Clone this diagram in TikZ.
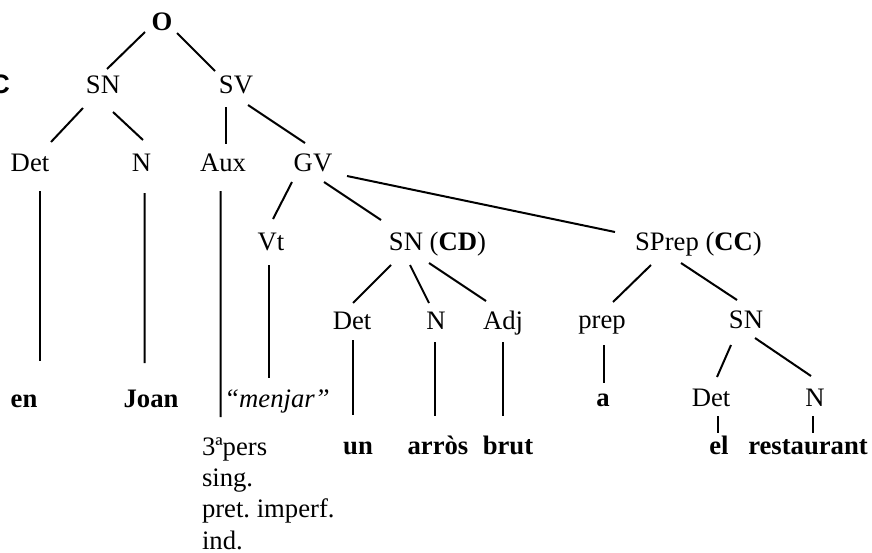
\documentclass[tikz,border=0pt]{standalone}
\usepackage{fontspec}
\setmainfont{Liberation Serif}
\newfontfamily\arialfont{Liberation Sans}
\usetikzlibrary{calc}
\tikzset{
  cat/.style={inner sep=0pt, anchor=base, font=\fontsize{12}{14}\selectfont},
  word/.style={cat, font=\fontsize{12}{14}\selectfont\bfseries}
}
\begin{document}
\begin{tikzpicture}[x=0.45pt, y=-0.45pt, line width=0.9pt]
\useasboundingbox (0,0) rectangle (872,552);

% --- Sentence and first split ---
\node (o) [word] at (162,30) {O};
\node (c_cut) [cat, anchor=base east] at (11,93) {\arialfont\bfseries C};
\node (sn) [cat] at (103,93) {SN};
\node (sv) [cat] at (236,93) {SV};

% --- Subject, auxiliary and verb group ---
\node (det_sn) [cat] at (30,171) {Det};
\node (n_sn) [cat] at (141.5,171) {N};
\node (aux) [cat] at (223,171) {Aux};
\node (gv) [cat] at (313,171) {GV};
\node (vt) [cat] at (271,250) {Vt};
\node (sn_cd) [cat] at (406,250) {SN\rlap{\ (\textbf{CD})}};
\node (sprep) [cat] at (667,250) {SPrep\rlap{\ (\textbf{CC})}};

% --- Lower categories ---
\node (det_cd) [cat] at (352,329) {Det};
\node (n_cd) [cat] at (436,329) {N};
\node (adj) [cat] at (503,329) {Adj};
\node (prep) [cat] at (602,328) {prep};
\node (sn_cc) [cat] at (746,328) {SN};
\node (det_cc) [cat] at (711,406) {Det};
\node (n_cc) [cat] at (815,406) {N};

% --- Words ---
\node (w_en) [word] at (24,407) {en};
\node (w_joan) [word] at (151,407) {Joan};
\node (w_menjar) [cat] at (277,407) {\textit{“menjar”}};
\node (w_a) [word] at (603,406) {a};
\node (w_pers) [cat, anchor=north west, align=left] at (201,437) {3ªpers\\sing.\\pret.\ imperf.\\ind.};
\node (w_un) [word] at (358,454) {un};
\node (w_arros) [word] at (438,454) {arròs};
\node (w_brut) [word] at (508,454) {brut};
\node (w_el) [word] at (719,454) {el};
\node (w_rest) [word] at (808,454) {restaurant};

% --- Branches ---
\draw ($(o.base)+(-17,2)$) -- ($(sn.base)+(4,-24)$);
\draw ($(o.base)+(15,3)$) -- ($(sv.base)+(-21,-22)$);
\draw ($(sn.base)+(-20,15)$) -- ($(det_sn.base)+(21,-29)$);
\draw ($(sn.base)+(10,19)$) -- ($(n_sn.base)+(1.5,-31)$);
\draw ($(sv.base)+(-10,14)$) -- ($(aux.base)+(3,-27)$);
\draw ($(sv.base)+(12,12)$) -- ($(gv.base)+(-8,-28)$);
\draw ($(det_sn.base)+(10,20)$) -- ($(w_en.base)+(16,-46)$);
\draw ($(n_sn.base)+(3,22)$) -- ($(w_joan.base)+(-6.5,-44)$);
\draw ($(aux.base)+(-2.5,20)$) -- ($(w_pers.north west)+(19.5,-20)$);
\draw ($(gv.base)+(-21,11)$) -- ($(vt.base)+(2,-31)$);
\draw ($(gv.base)+(11,11)$) -- ($(sn_cd.base)+(-25,-30)$);
\draw ($(gv.base)+(34,5)$) -- ($(sprep.base)+(-52,-18)$);
\draw ($(vt.base)+(-2,15)$) -- ($(w_menjar.base)+(-8,-29)$);
\draw ($(sn_cd.base)+(-15,15)$) -- ($(det_cd.base)+(1,-26)$);
\draw ($(sn_cd.base)+(4,15)$) -- ($(n_cd.base)+(-7,-26)$);
\draw ($(sn_cd.base)+(23,13)$) -- ($(adj.base)+(-17,-28)$);
\draw ($(det_cd.base)+(1,11)$) -- ($(w_un.base)+(-5,-39)$);
\draw ($(n_cd.base)+(-1,13)$) -- ($(w_arros.base)+(-3,-38)$);
\draw ($(adj.base)+(0,13)$) -- ($(w_brut.base)+(-5,-38)$);
\draw ($(sprep.base)+(-16,15)$) -- ($(prep.base)+(11,-26)$);
\draw ($(sprep.base)+(14,13)$) -- ($(sn_cc.base)+(-9,-28)$);
\draw ($(prep.base)+(2,17)$) -- ($(w_a.base)+(1,-23)$);
\draw ($(sn_cc.base)+(-15,17)$) -- ($(det_cc.base)+(6,-29)$);
\draw ($(sn_cc.base)+(9,10)$) -- ($(n_cc.base)+(-4,-30)$);
\draw ($(det_cc.base)+(7,10)$) -- ($(w_el.base)+(-1,-21)$);
\draw ($(n_cc.base)+(-2,10)$) -- ($(w_rest.base)+(5,-21)$);

\end{tikzpicture}
\end{document}
